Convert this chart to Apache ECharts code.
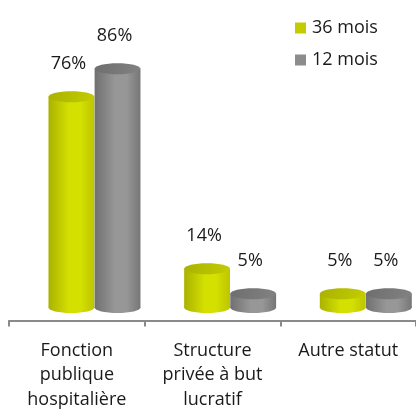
<!DOCTYPE html>
<html>
<head>
<meta charset="utf-8">
<script src="https://cdn.jsdelivr.net/npm/echarts@6/dist/echarts.min.js"></script>
<style>
  html, body { margin: 0; padding: 0; background: #fff; }
  #chart { width: 416px; height: 412px; }
</style>
</head>
<body>
<div id="chart"></div>
<script>
// Données du graphique
const categories = ["Fonction\npublique\nhospitalière", "Structure\nprivée à but\nlucratif", "Autre statut"];
const seriesNames = ["36 mois", "12 mois"];
const values36 = [76, 14, 5];
const values12 = [86, 5, 5];

const FONT = "'Open Sans', sans-serif";

// Couleurs des cylindres : corps, dessus, légende
const palettes = [
    { edge: "#aab200", mid: "#d4e000", right: "#bcc500", top0: "#a9b200", top1: "#c3cd00", legend: "#c4cc00" },
    { edge: "#707070", mid: "#979797", right: "#767676", top0: "#6e6e6e", top1: "#828282", legend: "#8c8c8c" }
];

// Dessine un cylindre 3D à partir des coordonnées de l'axe.
function cylinder(seriesIndex) {
    const pal = palettes[seriesIndex];
    return function (params, api) {
        const cat = api.value(0);
        const top = api.coord([cat, api.value(1)]);
        const base = api.coord([cat, 0]);
        const band = api.size([1, 0])[0];
        const w = band * 0.338;
        const cx = top[0] + (seriesIndex === 0 ? -0.04 : 0.30) * band;
        const rx = w / 2;
        const ry = 5.5;
        const bodyFill = new echarts.graphic.LinearGradient(0, 0, 1, 0, [
            { offset: 0, color: pal.edge },
            { offset: 0.45, color: pal.mid },
            { offset: 0.7, color: pal.mid },
            { offset: 1, color: pal.right }
        ]);
        const topFill = new echarts.graphic.LinearGradient(0, 0, 1, 1, [
            { offset: 0, color: pal.top0 },
            { offset: 1, color: pal.top1 }
        ]);
        return {
            type: "group",
            children: [
                { type: "ellipse", shape: { cx: cx, cy: base[1], rx: rx, ry: ry }, style: { fill: bodyFill } },
                { type: "rect", shape: { x: cx - rx, y: top[1], width: w, height: base[1] - top[1] }, style: { fill: bodyFill } },
                { type: "ellipse", shape: { cx: cx, cy: top[1], rx: rx, ry: ry }, style: { fill: topFill } },
                {
                    type: "text",
                    style: {
                        x: cx - 3, y: top[1] - ry - 27,
                        text: api.value(1) + "%",
                        fill: "#1a1a1a", font: "18px " + FONT,
                        align: "center", verticalAlign: "middle"
                    }
                }
            ]
        };
    };
}

const chart = echarts.init(document.getElementById("chart"));
chart.setOption({
    animation: false,
    textStyle: { fontFamily: FONT },
    legend: {
        orient: "vertical",
        left: 290, top: 14,
        itemWidth: 11, itemHeight: 11, itemGap: 14,
        icon: "rect",
        data: seriesNames.map((name, i) => ({ name: name, itemStyle: { color: palettes[i].legend } })),
        textStyle: { fontSize: 18, color: "#1a1a1a", fontFamily: FONT, padding: [0, 0, 0, 1] }
    },
    grid: { left: 9, top: 30, width: 411, bottom: 89 },
    xAxis: {
        type: "category",
        data: categories,
        axisLine: { onZero: false, lineStyle: { color: "#8a8a8a", width: 2 } },
        axisTick: { show: true, length: 6, lineStyle: { color: "#8a8a8a", width: 2 } },
        axisLabel: { interval: 0, margin: 18, fontSize: 18, lineHeight: 24.5, color: "#1a1a1a", fontFamily: FONT }
    },
    // Le sol des cylindres se trouve un peu au-dessus de la ligne d'axe
    yAxis: { type: "value", min: -4.64, max: 100, show: false, splitLine: { show: false } },
    series: [
        { type: "custom", name: seriesNames[0], renderItem: cylinder(0), data: values36.map((v, i) => [i, v]), itemStyle: { color: palettes[0].legend } },
        { type: "custom", name: seriesNames[1], renderItem: cylinder(1), data: values12.map((v, i) => [i, v]), itemStyle: { color: palettes[1].legend } }
    ]
});
</script>
</body>
</html>
